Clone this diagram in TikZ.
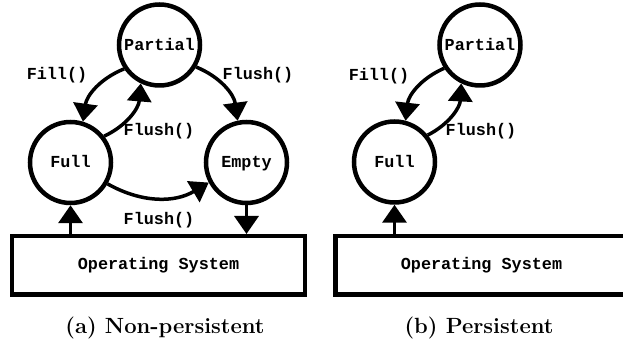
\documentclass[tikz,border=0pt]{standalone}
\usepackage{fontspec}
\newfontfamily\codefont{Liberation Mono}
\usetikzlibrary{arrows.meta}

\begin{document}
\begin{tikzpicture}[x=0.5pt,y=-0.5pt,
  code/.style={font=\codefont\bfseries\fontsize{8.4}{10}\selectfont},
  state/.style={code, circle, draw, line width=2.25pt, minimum size=40.5pt,
    inner sep=0pt, text height=6pt, text depth=0.5pt},
  osbox/.style={code, rectangle, draw, line width=2.25pt, minimum width=146.25pt,
    minimum height=29.25pt, inner sep=0pt, text height=5.5pt, text depth=1.5pt},
  flow/.style={line width=1.75pt, -{Triangle[length=9pt,width=12pt]}},
  lbl/.style={code, anchor=base, inner sep=0pt},
  caption/.style={anchor=base, inner sep=0pt, font=\bfseries\fontsize{11}{13}\selectfont}
]
\clip (0,0) rectangle (623,341);

% (a) non-persistent buffer
\node[state] (PartL)  at (159.5,45)  {Partial};
\node[state] (FullL)  at (70.5,162.5) {Full};
\node[state] (EmptyL) at (246.5,162.5) {Empty};
\node[osbox] (OSL)    at (158.5,265.5) {Operating System};

\draw[flow] (PartL.214) to[bend right=30] (FullL.73);
\draw[flow] (FullL.38) to[bend right=30] (PartL.244);
\draw[flow] (PartL.329) to[bend left=30] (EmptyL.102);
\draw[flow] (FullL.-30) to[bend right=30] (EmptyL.208);
\draw[flow] (FullL |- OSL.north) -- (FullL.south);
\draw[flow] (EmptyL.south) -- (EmptyL |- OSL.north);

\node[lbl] (fillL)   at (57,80)   {Fill()};
\node[lbl] (flushL1) at (159,136) {Flush()};
\node[lbl] (flushL2) at (258,80)  {Flush()};
\node[lbl] (flushL3) at (159,225) {Flush()};

\node[caption] (capA) at (165,334) {(a) Non-persistent};

% (b) persistent buffer
\node[state] (PartR) at (480,45)    {Partial};
\node[state] (FullR) at (394.5,162) {Full};
\node[osbox] (OSR)   at (481.5,265.5) {Operating System};

\draw[flow] (PartR.213) to[bend right=30] (FullR.75);
\draw[flow] (FullR.39) to[bend right=30] (PartR.244);
\draw[flow] (FullR |- OSR.north) -- (FullR.south);

\node[lbl] (fillR)  at (379,81)  {Fill()};
\node[lbl] (flushR) at (481,136) {Flush()};

\node[caption] (capB) at (479,334) {(b) Persistent};
\end{tikzpicture}
\end{document}
